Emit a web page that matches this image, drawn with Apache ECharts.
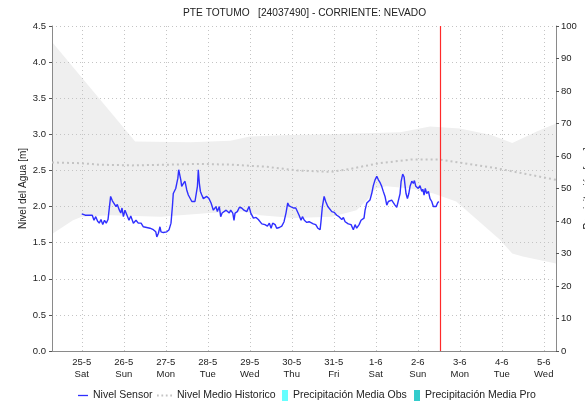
<!DOCTYPE html>
<html>
<head>
<meta charset="utf-8">
<script src="https://cdn.jsdelivr.net/npm/echarts@6/dist/echarts.min.js"></script>
<style>
  html, body { margin: 0; padding: 0; background: #fff; }
  #chart { width: 585px; height: 403px; }
</style>
</head>
<body>
<div id="chart"></div>
<script>
// Time values are hours counted from 25-5-2024 00:00 (local time).
const axisStartHour = -17;   // 24-5 07:00
const axisEndHour = 271;     // 5-6 07:00
const nowHour = 205;         // current time marker, 2-6 13:00

// Sensor water level [m]
const sensorHours = [0,2,6,7,8,9,10,11,12,13,14,15,16,16.5,17.5,18.6,19.6,20.3,21.5,22.3,23,23.8,24.7,25.7,27,28,29.5,31,32.3,33.9,35.2,36.2,39,40.9,42.3,42.9,43.8,44.7,45.3,46.6,48.6,49.9,51,51.8,52.3,52.9,53.7,54.3,54.9,55.4,56,56.6,57.1,58.1,59,60,60.9,61.9,62.9,63.8,64.7,65.7,66.1,66.6,67.2,67.8,68.6,69.5,70.5,71.4,72.7,73.9,75.2,76.7,77.5,78.6,79.4,80.2,81.3,82.5,83.2,84.3,85.1,86.3,87,87.6,88.9,90.1,91.4,92.7,94.3,95.6,96.6,98.1,99.6,100.9,102.9,104.7,106.1,107.2,108.2,109.1,110.5,111.4,112.9,114.3,115.6,116.7,117.7,118.5,119.6,120.9,122.3,123.4,124.2,125.3,126.1,127.2,128.6,129.9,131,132.3,133.7,134.9,136.2,136.7,137.5,138.5,139.4,140.6,141.3,142.9,144.3,145.7,147,148.6,149.5,150.5,151.4,152.3,153.9,155.2,156.2,157.1,158.5,159.6,161.3,161.9,162.9,163.8,164.7,165.7,166.6,167.6,168.6,169.5,170.5,171.4,172.3,173.3,174.3,175.2,176.2,177.1,178.1,179,180,180.9,181.9,182.5,183.4,184.2,184.7,185.3,186.1,186.9,187.6,188.6,189.5,190.1,190.9,191.4,192.3,193.3,194.3,194.9,195.6,196.3,197.1,198.1,199,200,200.9,202.5,203.3,204];
const sensorLevels = [1.90,1.88,1.88,1.81,1.86,1.80,1.77,1.82,1.75,1.81,1.77,1.82,1.82,2.14,2.08,2.07,2.00,2.03,1.95,1.91,1.98,1.86,1.95,1.93,1.81,1.87,1.77,1.81,1.77,1.77,1.72,1.72,1.70,1.68,1.65,1.58,1.63,1.72,1.65,1.64,1.65,1.68,1.77,2.00,2.18,2.16,2.25,2.32,2.39,2.51,2.53,2.37,2.28,2.32,2.35,2.23,2.16,2.14,2.07,2.05,2.07,2.05,2.28,2.51,2.32,2.21,2.16,2.11,2.11,2.14,2.11,2.05,1.95,2.00,1.93,2.00,1.86,1.91,1.90,1.95,1.93,1.91,1.95,1.91,1.81,1.91,1.93,1.99,1.98,1.95,1.93,2.00,1.91,1.84,1.85,1.82,1.76,1.75,1.73,1.77,1.70,1.77,1.75,1.70,1.71,1.73,1.79,1.91,2.05,2.01,2.00,1.98,1.98,2.00,1.88,1.81,1.86,1.81,1.78,1.79,1.80,1.76,1.75,1.70,1.68,1.79,2.00,2.14,2.07,2.00,1.98,1.93,1.92,1.88,1.86,1.82,1.85,1.79,1.81,1.76,1.75,1.68,1.75,1.70,1.75,1.81,1.84,1.95,2.05,2.05,2.09,2.18,2.29,2.37,2.42,2.37,2.33,2.28,2.21,2.14,2.02,2.07,2.09,2.09,2.07,2.02,1.99,2.00,2.18,2.35,2.45,2.41,2.30,2.18,2.11,2.18,2.28,2.35,2.32,2.36,2.28,2.30,2.25,2.29,2.21,2.24,2.16,2.25,2.18,2.21,2.11,2.07,2.00,2.00,2.05,2.07];

// Historic mean level [m]
const meanHours = [-17,0,10,29,49,67,86,106,123,142,153,170,188,205,218,237,252,271];
const meanLevels = [2.61,2.60,2.58,2.57,2.58,2.59,2.58,2.55,2.50,2.48,2.52,2.60,2.65,2.65,2.60,2.53,2.46,2.37];

// Historic range envelope [m]
const upperHours = [-17,30.5,62,85,96,119,142,182,199,216,234,246,260,271];
const upperLevels = [4.28,2.90,2.89,2.91,2.97,2.99,3.00,3.03,3.11,3.08,2.99,2.88,3.04,3.15];
const lowerHours = [-17,-5,0,16,45,73,92,102,121,143,157,163,168,174,188,201,214,224,239,246,252,271];
const lowerLevels = [1.62,1.81,1.86,1.88,1.86,1.91,1.93,1.88,1.84,1.86,1.95,2.09,2.25,2.28,2.25,2.18,2.07,1.86,1.54,1.35,1.31,1.21];

// Precipitation series (no records in this window)
const precipObs = [];
const precipPro = [];

const levelTicks = { min: 0, max: 4.5, step: 0.5 };
const precipTicks = { min: 0, max: 100, step: 10 };
const dayNames = ['Sun', 'Mon', 'Tue', 'Wed', 'Thu', 'Fri', 'Sat'];

const BASE = new Date(2024, 4, 25, 0, 0, 0).getTime();
const HOUR = 3600 * 1000;
const toTime = h => BASE + h * HOUR;
const pairs = (hs, vs) => hs.map((h, i) => [toTime(h), vs[i]]);

const FONT = 'Liberation Sans, Arial, sans-serif';
const chart = echarts.init(document.getElementById('chart'), null, { renderer: 'canvas' });

const legendBase = {
  top: 390,
  itemHeight: 11,
  selectedMode: false,
  textStyle: { fontFamily: FONT, fontSize: 10.5, color: '#222' },
  padding: 0
};

// Legend glyphs: a solid stroke, a row of dashes, and a narrow block
const ICON_SOLID = 'path://M0,0H10V1.3H0Z';
const ICON_DASH = 'path://M0,0H2V2H0Z M5,0H7V2H5Z M10,0H12V2H10Z M15,0H17V2H15Z';

chart.setOption({
  animation: false,
  backgroundColor: '#fff',
  title: {
    text: 'PTE TOTUMO   [24037490] - CORRIENTE: NEVADO',
    left: 183,
    top: 8,
    padding: 0,
    textStyle: { fontFamily: FONT, fontSize: 10.2, fontWeight: 'normal', color: '#222' }
  },
  legend: [
    Object.assign({}, legendBase, { data: [{ name: 'Nivel Sensor', icon: ICON_SOLID }], left: 78, itemWidth: 10 }),
    Object.assign({}, legendBase, { data: [{ name: 'Nivel Medio Historico', icon: ICON_DASH }], left: 157, itemWidth: 15 }),
    Object.assign({}, legendBase, { data: [{ name: 'Precipitación Media Obs', icon: 'rect' }], left: 282, itemWidth: 6 }),
    Object.assign({}, legendBase, { data: [{ name: 'Precipitación Media Pro', icon: 'rect' }], left: 414, itemWidth: 6 })
  ],
  grid: { left: 52, right: 29, top: 26, bottom: 52, containLabel: false, outerBoundsMode: 'none' },
  xAxis: [
    {
      type: 'time',
      min: toTime(axisStartHour),
      max: toTime(axisEndHour),
      minInterval: 24 * HOUR,
      maxInterval: 24 * HOUR,
      z: 2,
      axisLine: { show: true, lineStyle: { color: '#444', type: [1, 1], width: 1 } },
      axisTick: { show: false },
      axisLabel: {
        margin: 5,
        fontFamily: FONT,
        fontSize: 9.5,
        lineHeight: 12,
        color: '#222',
        formatter: function (value) {
          const d = new Date(value);
          if (d.getHours() !== 0 || d.getMinutes() !== 0) return '';
          return d.getDate() + '-' + (d.getMonth() + 1) + '\n' + dayNames[d.getDay()];
        }
      },
      splitLine: { show: true, lineStyle: { color: '#c4c4c4', type: [1, 3], width: 1 } }
    },
    {
      // frame line along the top; also carries the precipitation bars
      type: 'time',
      position: 'top',
      min: toTime(axisStartHour),
      max: toTime(axisEndHour),
      z: 2,
      axisLine: { show: true, lineStyle: { color: '#8a8a8a', width: 1 } },
      axisTick: { show: false },
      axisLabel: { show: false },
      splitLine: { show: false }
    }
  ],
  yAxis: [
    {
      type: 'value',
      position: 'left',
      min: levelTicks.min,
      max: levelTicks.max,
      interval: levelTicks.step,
      name: 'Nivel del Agua [m]',
      nameLocation: 'middle',
      nameGap: 24,
      nameMoveOverlap: false,
      nameTextStyle: { fontFamily: FONT, fontSize: 10, color: '#222' },
      z: 2,
      axisLine: { show: true, lineStyle: { color: '#8a8a8a', width: 1 } },
      axisTick: { show: true, length: 3, lineStyle: { color: '#555' } },
      axisLabel: {
        margin: 6,
        fontFamily: FONT,
        fontSize: 9.5,
        color: '#222',
        formatter: v => v.toFixed(1)
      },
      splitLine: { show: true, lineStyle: { color: '#c4c4c4', type: [1, 3], width: 1 } }
    },
    {
      type: 'value',
      position: 'right',
      min: precipTicks.min,
      max: precipTicks.max,
      interval: precipTicks.step,
      name: 'Precipitación [mm]',
      nameLocation: 'middle',
      nameGap: 27,
      nameMoveOverlap: false,
      nameTextStyle: { fontFamily: FONT, fontSize: 10, color: '#222' },
      z: 2,
      axisLine: { show: true, lineStyle: { color: '#8a8a8a', width: 1 } },
      axisTick: { show: true, length: 3, lineStyle: { color: '#555' } },
      axisLabel: { margin: 5, fontFamily: FONT, fontSize: 9.5, color: '#222' },
      splitLine: { show: false }
    }
  ],
  series: [
    {
      name: 'Rango Historico',
      type: 'custom',
      xAxisIndex: 0,
      yAxisIndex: 0,
      z: 1,
      silent: true,
      clip: true,
      data: [[toTime(axisStartHour), 0]],
      renderItem: function (params, api) {
        const pts = [];
        for (let i = 0; i < upperHours.length; i++) {
          pts.push(api.coord([toTime(upperHours[i]), upperLevels[i]]));
        }
        for (let i = lowerHours.length - 1; i >= 0; i--) {
          pts.push(api.coord([toTime(lowerHours[i]), lowerLevels[i]]));
        }
        return { type: 'polygon', shape: { points: pts }, style: { fill: '#efefef' } };
      }
    },
    {
      name: 'Nivel Medio Historico',
      type: 'line',
      xAxisIndex: 0,
      yAxisIndex: 0,
      z: 3,
      symbol: 'none',
      showSymbol: false,
      color: '#c4c4c4',
      itemStyle: { color: '#c4c4c4' },
      lineStyle: { color: '#c4c4c4', width: 2, type: [2, 3] },
      data: pairs(meanHours, meanLevels)
    },
    {
      name: 'Nivel Sensor',
      type: 'line',
      xAxisIndex: 0,
      yAxisIndex: 0,
      z: 4,
      symbol: 'none',
      showSymbol: false,
      color: '#2f2fff',
      itemStyle: { color: '#2f2fff' },
      lineStyle: { color: '#2f2fff', width: 1.4 },
      data: pairs(sensorHours, sensorLevels),
      markLine: {
        silent: true,
        symbol: ['none', 'none'],
        label: { show: false },
        lineStyle: { color: '#ff2a2a', width: 1.2, type: 'solid' },
        data: [{ xAxis: toTime(nowHour) }]
      }
    },
    {
      name: 'Precipitación Media Obs',
      type: 'bar',
      xAxisIndex: 1,
      yAxisIndex: 1,
      color: '#66ffff',
      data: precipObs
    },
    {
      name: 'Precipitación Media Pro',
      type: 'bar',
      xAxisIndex: 1,
      yAxisIndex: 1,
      color: '#33cccc',
      data: precipPro
    }
  ]
});
</script>
</body>
</html>
